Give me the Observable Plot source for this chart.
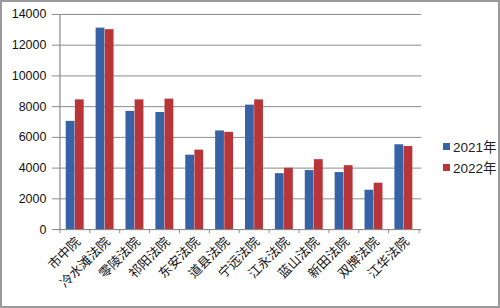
<!DOCTYPE html>
<html><head><meta charset="utf-8">
<script src="https://cdn.jsdelivr.net/npm/d3@7"></script>
<script src="https://cdn.jsdelivr.net/npm/@observablehq/plot@0.6"></script>
<style>
body{margin:0;background:#fff;}
#wrap{position:relative;width:500px;height:308px;box-sizing:border-box;border:2px solid #9a9a9a;overflow:hidden;background:#fff;}
#chart{position:absolute;left:-2px;top:-2px;}
.leg{position:absolute;left:441px;font:13.5px "Liberation Sans",Arial,"Noto Sans CJK SC",sans-serif;color:#222;display:flex;align-items:center;}
.leg i{display:inline-block;width:7px;height:7px;margin-right:3px;}
</style></head>
<body>
<div id="wrap"><div id="chart"></div>
<div class="leg" style="top:134px"><i style="background:#3762a6"></i>2021年</div>
<div class="leg" style="top:155px"><i style="background:#b8353a"></i>2022年</div>
</div>
<script>
const courts = ["市中院","冷水滩法院","零陵法院","祁阳法院","东安法院","道县法院","宁远法院","江永法院","蓝山法院","新田法院","双牌法院","江华法院"];
const v2021 = [7040,13110,7690,7620,4840,6420,8100,3640,3840,3710,2560,5520];
const v2022 = [8440,13010,8440,8490,5170,6330,8440,3990,4550,4160,3020,5410];
const yTicks = [0,2000,4000,6000,8000,10000,12000,14000];

const data = courts.flatMap((c,i)=>[{court:c,year:"2021年",value:v2021[i]},{court:c,year:"2022年",value:v2022[i]}]);
const W=500,H=308,mL=56,mR=77,mT=14,mB=78;
const step=(W-mL-mR)/courts.length;
const bw=step*0.6;
const lineC="#8a8a8a";
const plot = Plot.plot({
  width:W,height:H,marginLeft:mL,marginRight:mR,marginTop:mT,marginBottom:mB,
  style:{fontFamily:'"Liberation Sans",Arial,"Noto Sans CJK SC",sans-serif',fontSize:"12px",color:"#222",background:"transparent"},
  x:{domain:courts,paddingInner:0.4,paddingOuter:0.2,label:null},
  y:{domain:[0,14000],label:null},
  marks:[
    Plot.gridY(yTicks,{stroke:lineC,strokeOpacity:1,strokeWidth:1}),
    Plot.barY(data.filter(d=>d.year==="2021年"),{x:"court",y:"value",fill:"#3762a6",insetRight:bw/2}),
    Plot.barY(data.filter(d=>d.year==="2022年"),{x:"court",y:"value",fill:"#b8353a",insetLeft:bw/2}),
    Plot.ruleY([0],{stroke:lineC}),
    Plot.ruleX([courts[0]],{x:d=>d,dx:-step/2,stroke:lineC,strokeWidth:1.2}),
    Plot.axisY(yTicks,{tickSize:4,tickPadding:6,stroke:lineC,fontSize:12.5,fill:"#111",tickFormat:d3.format("d")}),
    Plot.axisX({tickSize:4,tickFormat:()=>"",stroke:lineC,dx:-step/2}),
    Plot.ruleX([courts[courts.length-1]],{x:d=>d,dx:step/2,y1:0,y2:-270,stroke:lineC}),
    Plot.axisX({tickSize:0,tickPadding:10,tickRotate:-45,fontSize:13,fill:"#111",fontFamily:'"Noto Sans CJK SC",sans-serif',dx:3})
  ]
});
document.getElementById("chart").appendChild(plot);
</script>
</body></html>
